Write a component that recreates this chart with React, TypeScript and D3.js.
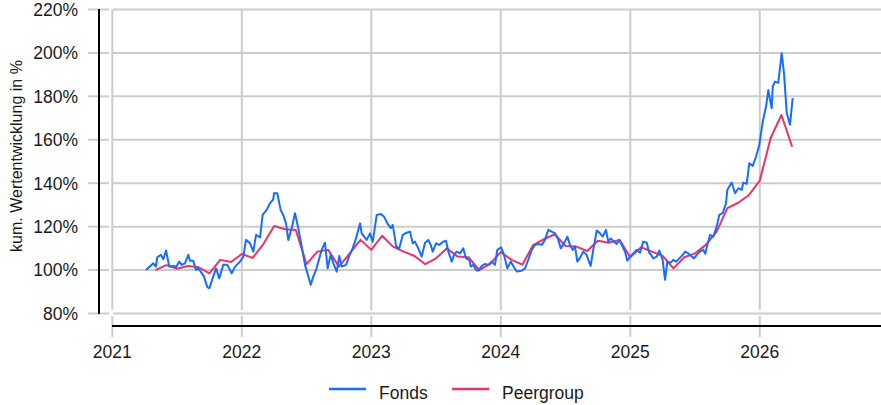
import React from "react";
import * as d3 from "d3";

// ---- data ----
const yTickValues = [80, 100, 120, 140, 160, 180, 200, 220];
const yearTicks = [2021, 2022, 2023, 2024, 2025, 2026];
const legendLabels = ["Fonds", "Peergroup"];

// Fonds: time in decimal years, cumulative performance in %
const fondsTime = [
  2021.26, 2021.317, 2021.337, 2021.347, 2021.376, 2021.394, 2021.415, 2021.44, 2021.476, 2021.492,
  2021.517, 2021.536, 2021.561, 2021.587, 2021.6, 2021.625, 2021.646, 2021.664, 2021.683, 2021.708,
  2021.734, 2021.749, 2021.775, 2021.801, 2021.826, 2021.857, 2021.888, 2021.922, 2021.948, 2021.986,
  2022.012, 2022.032, 2022.063, 2022.089, 2022.11, 2022.141, 2022.161, 2022.192, 2022.218, 2022.243,
  2022.249, 2022.274, 2022.3, 2022.32, 2022.341, 2022.359, 2022.385, 2022.411, 2022.436, 2022.463,
  2022.488, 2022.514, 2022.532, 2022.552, 2022.578, 2022.591, 2022.617, 2022.642, 2022.663, 2022.686,
  2022.707, 2022.733, 2022.753, 2022.771, 2022.805, 2022.83, 2022.856, 2022.882, 2022.913, 2022.926,
  2022.964, 2022.99, 2023.011, 2023.042, 2023.073, 2023.098, 2023.124, 2023.15, 2023.165, 2023.183,
  2023.192, 2023.216, 2023.243, 2023.273, 2023.299, 2023.32, 2023.337, 2023.363, 2023.389, 2023.415,
  2023.44, 2023.459, 2023.474, 2023.5, 2023.525, 2023.556, 2023.577, 2023.595, 2023.621, 2023.639,
  2023.659, 2023.685, 2023.71, 2023.731, 2023.757, 2023.768, 2023.788, 2023.809, 2023.826, 2023.853,
  2023.878, 2023.904, 2023.93, 2023.955, 2023.973, 2024.002, 2024.025, 2024.05, 2024.076, 2024.102,
  2024.123, 2024.161, 2024.187, 2024.212, 2024.239, 2024.264, 2024.29, 2024.316, 2024.341, 2024.367,
  2024.393, 2024.419, 2024.444, 2024.463, 2024.488, 2024.514, 2024.534, 2024.555, 2024.573, 2024.591,
  2024.617, 2024.637, 2024.663, 2024.676, 2024.694, 2024.714, 2024.741, 2024.766, 2024.787, 2024.812,
  2024.83, 2024.849, 2024.874, 2024.895, 2024.915, 2024.934, 2024.959, 2024.977, 2024.998, 2025.023,
  2025.049, 2025.075, 2025.1, 2025.127, 2025.147, 2025.152, 2025.178, 2025.204, 2025.224, 2025.25,
  2025.268, 2025.286, 2025.312, 2025.332, 2025.353, 2025.378, 2025.405, 2025.423, 2025.448, 2025.474,
  2025.492, 2025.513, 2025.538, 2025.564, 2025.579, 2025.595, 2025.616, 2025.641, 2025.667, 2025.687,
  2025.714, 2025.739, 2025.749, 2025.783, 2025.809, 2025.834, 2025.86, 2025.873, 2025.899, 2025.919,
  2025.945, 2025.971, 2025.996, 2026.023, 2026.048, 2026.066, 2026.084, 2026.092, 2026.1, 2026.117,
  2026.143, 2026.169, 2026.187, 2026.208, 2026.233, 2026.254,
];
const fondsValue = [
  100, 103.1, 101.6, 105.9, 107, 105, 109, 101.6, 101.9, 101.3,
  103.9, 102.4, 103.1, 107, 104.3, 104.3, 100, 100.8, 99.3, 97,
  92.1, 91.6, 96.2, 100.8, 96.2, 102.4, 102.4, 98.5, 101.6, 103.9,
  106.2, 113.9, 112.4, 108.5, 116.2, 115, 125.4, 127.7, 130.8, 132.6,
  135.4, 135.4, 127.7, 125.4, 121.5, 113.9, 119.3, 126.2, 119.3, 110.8,
  102.4, 97, 93.2, 97, 100.8, 103.9, 109.3, 112.6, 100.8, 107,
  103.1, 99.3, 106.5, 101.6, 102.4, 106.5, 110, 114.6, 121.5, 116.9,
  113.9, 116.9, 113.1, 125.4, 125.8, 124.6, 121.5, 119.3, 120.8, 114.6,
  110.8, 110, 116.2, 117.2, 117.7, 112.3, 113.1, 110, 106.2, 112.6,
  113.9, 111.6, 108.5, 112.3, 111.6, 113.1, 113.5, 108.5, 103.9, 107,
  108.5, 107.7, 110, 105.4, 104.7, 101.6, 102.4, 100, 99.7, 101.9,
  102.8, 102.4, 103.9, 102.4, 109.3, 110.5, 107, 100.8, 103.9, 101.3,
  99.3, 99.7, 100.8, 104.7, 109.3, 111.6, 112, 111.6, 113.9, 118.5,
  117.7, 116.9, 113.9, 110, 112.3, 115.4, 111.6, 109.3, 110.8, 103.9,
  106.2, 108.5, 107, 104.7, 101.9, 109.3, 118.2, 116.9, 115.4, 118.5,
  113.1, 114.6, 113.1, 112, 113.9, 111.6, 108.5, 104.3, 106.2, 107.7,
  109.3, 108, 113.1, 112.6, 107.7, 107.7, 105.4, 106.2, 109, 104.7,
  95.5, 103.9, 103.4, 104.7, 103.9, 105.4, 107, 108.5, 107.7, 106.2,
  105.4, 107, 108.5, 109.3, 107.5, 111.6, 116.2, 115.4, 120, 125.4,
  126.2, 130.8, 136.9, 140.3, 135.4, 137.7, 136.9, 140.3, 139.7, 149.2,
  148, 152.2, 157.6, 168.4, 175.3, 182.9, 176.8, 174.5, 184.5, 186.8,
  186.3, 199.9, 190.7, 172.3, 166.9, 179.2,
];

// Peergroup: month-end values
const peerMonths = [
  "2021-04", "2021-05", "2021-06", "2021-07", "2021-08", "2021-09", "2021-10", "2021-11", "2021-12",
  "2022-01", "2022-02", "2022-03", "2022-04", "2022-05", "2022-06", "2022-07", "2022-08", "2022-09", "2022-10", "2022-11", "2022-12",
  "2023-01", "2023-02", "2023-03", "2023-04", "2023-05", "2023-06", "2023-07", "2023-08", "2023-09", "2023-10", "2023-11", "2023-12",
  "2024-01", "2024-02", "2024-03", "2024-04", "2024-05", "2024-06", "2024-07", "2024-08", "2024-09", "2024-10", "2024-11", "2024-12",
  "2025-01", "2025-02", "2025-03", "2025-04", "2025-05", "2025-06", "2025-07", "2025-08", "2025-09", "2025-10", "2025-11", "2025-12",
  "2026-01", "2026-02", "2026-03",
];
const peerValue = [
  100, 102.3, 100.6, 101.9, 101.3, 98.5, 104.7, 103.7, 107.4,
  105.6, 112, 120.3, 118.8, 118.5, 102.7, 108.5, 109.3, 101.6, 107.7, 113.9, 109.3,
  115.8, 110.8, 108.5, 106.5, 102.7, 105.4, 110, 106.2, 105.9, 100, 102.8, 108.3,
  104.7, 102.5, 111.5, 114.2, 116.5, 111.1, 110.8, 108.8, 113.5, 112.6, 113.9, 105.9,
  110.5, 108.5, 106.5, 100.8, 105.9, 107.7, 111.6, 117.7, 128.5, 131, 134.6, 141.2,
  160.7, 171.4, 156.8,
];

const FONDS_COLOR = "#1a6bff";
const PEER_COLOR = "#e8336b";
const FONT = "'Liberation Sans', Arial, sans-serif";

export default function App() {
  const width = 881;
  const height = 405;

  const x = d3.scaleLinear().domain([2021, 2026.936]).range([112.3, 881]);
  const y = d3.scaleLinear().domain([80, 220]).range([313.5, 9.5]);

  const fonds = fondsTime.map((t, i) => [t, fondsValue[i]] as [number, number]);
  const peer = peerMonths.map((m, i) => {
    const [yy, mm] = m.split("-").map(Number);
    return [yy + mm / 12, peerValue[i]] as [number, number];
  });

  const line = d3
    .line<[number, number]>()
    .x((d) => x(d[0]))
    .y((d) => y(d[1]));

  const gridColor = "#cccccc";
  const textColor = "#1a1a1a";

  return (
    <svg
      width={width}
      height={height}
      style={{ position: "fixed", left: 0, top: 0, background: "#fff" }}
      fontFamily={FONT}
    >
      {/* horizontal grid */}
      {yTickValues.map((v) => (
        <line key={"hg" + v} x1={113} x2={width} y1={y(v)} y2={y(v)} stroke={gridColor} strokeWidth={2} />
      ))}
      {/* vertical grid */}
      {yearTicks.map((yr) => (
        <line key={"vg" + yr} x1={x(yr)} x2={x(yr)} y1={9.5} y2={310} stroke={gridColor} strokeWidth={2} />
      ))}
      {/* y ticks */}
      {yTickValues.map((v) => (
        <line key={"yt" + v} x1={88} x2={109} y1={y(v)} y2={y(v)} stroke={gridColor} strokeWidth={2} />
      ))}
      {/* x ticks */}
      {yearTicks.map((yr) => (
        <line key={"xt" + yr} x1={x(yr)} x2={x(yr)} y1={316} y2={337} stroke={gridColor} strokeWidth={2} />
      ))}
      {/* axis lines */}
      <line x1={99} x2={99} y1={9} y2={314} stroke="#000" strokeWidth={2} />
      <line x1={112} x2={width} y1={326} y2={326} stroke="#000" strokeWidth={2} />

      {/* y tick labels */}
      {yTickValues.map((v) => (
        <text key={"yl" + v} x={78} y={y(v)} dy="0.36em" textAnchor="end" fontSize={17.5} fill={textColor}>
          {v + "%"}
        </text>
      ))}
      {/* x tick labels */}
      {yearTicks.map((yr) => (
        <text key={"xl" + yr} x={x(yr)} y={358} textAnchor="middle" fontSize={17.5} fill={textColor}>
          {String(yr)}
        </text>
      ))}
      {/* y title */}
      <text
        transform={`translate(22,156) rotate(-90)`}
        textAnchor="middle"
        fontSize={16}
        fill={textColor}
      >
        kum. Wertentwicklung in %
      </text>

      {/* series */}
      <path d={line(peer) || ""} fill="none" stroke={PEER_COLOR} strokeWidth={2} strokeLinejoin="round" />
      <path d={line(fonds) || ""} fill="none" stroke={FONDS_COLOR} strokeWidth={2} strokeLinejoin="round" />

      {/* legend */}
      <line x1={329} x2={366} y1={389} y2={389} stroke={FONDS_COLOR} strokeWidth={2.5} />
      <text x={379} y={399} fontSize={17.5} fill={textColor}>{legendLabels[0]}</text>
      <line x1={452} x2={489} y1={389} y2={389} stroke={PEER_COLOR} strokeWidth={2.5} />
      <text x={502} y={399} fontSize={17.5} fill={textColor}>{legendLabels[1]}</text>
    </svg>
  );
}
